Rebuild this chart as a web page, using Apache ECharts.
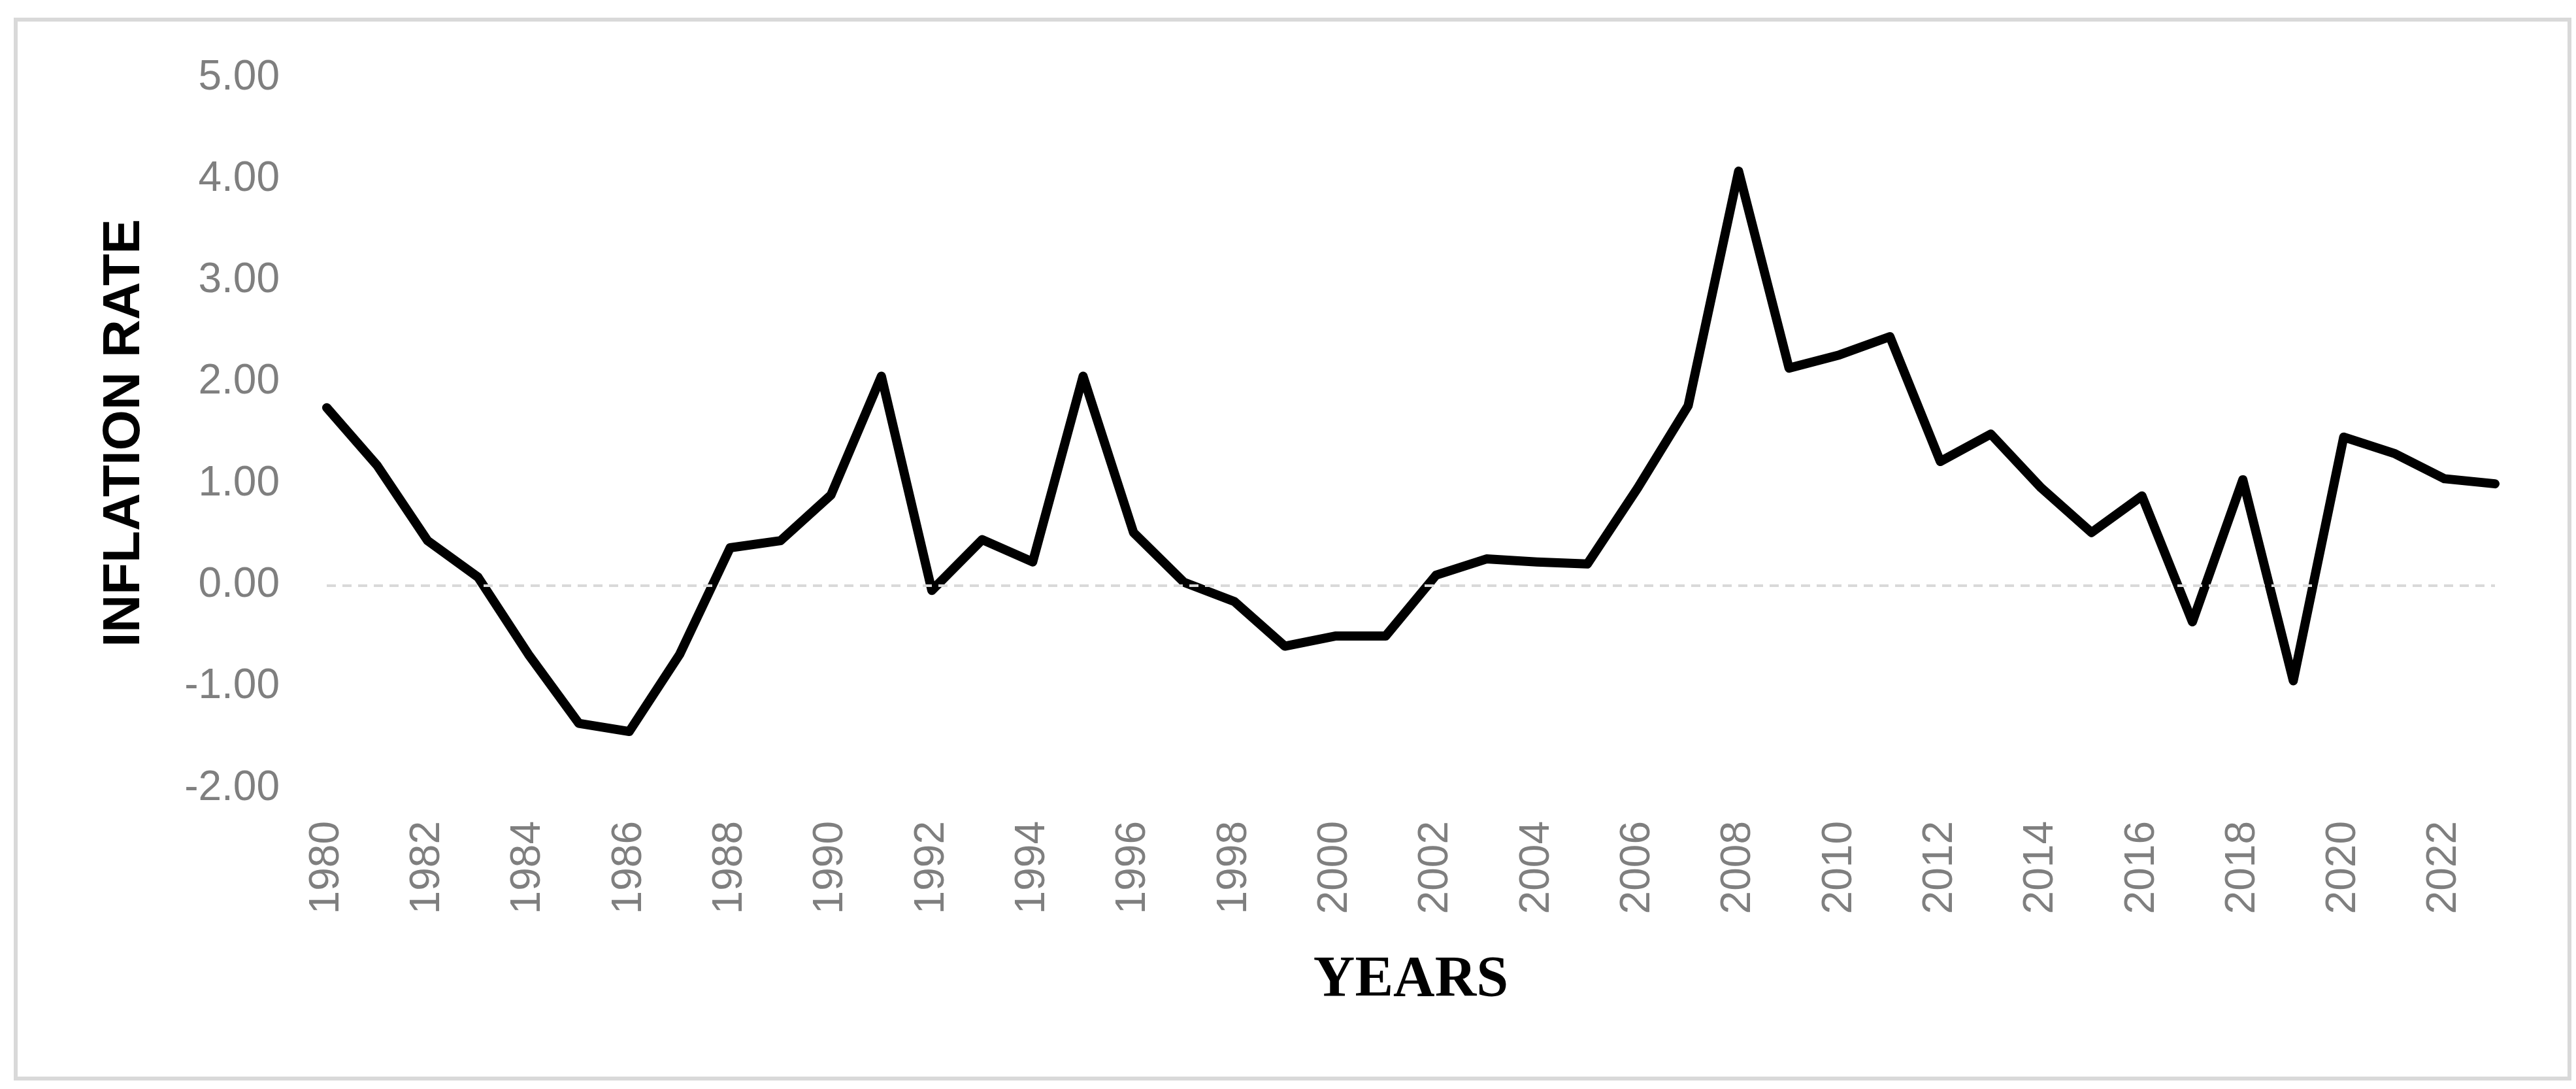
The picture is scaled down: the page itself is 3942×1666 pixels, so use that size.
<!DOCTYPE html>
<html><head><meta charset="utf-8">
<script src="https://cdn.jsdelivr.net/npm/echarts@6/dist/echarts.min.js"></script>
<style>html,body{margin:0;padding:0;background:#fff}#c{width:3942px;height:1666px}</style>
</head><body><div id="c"></div>
<script>
const years = [];
for (let y = 1980; y <= 2023; y++) years.push(String(y));
const inflation = [1.75,1.18,0.44,0.08,-0.68,-1.36,-1.44,-0.68,0.37,0.44,0.89,2.06,-0.05,0.45,0.23,2.06,0.52,0.03,-0.16,-0.60,-0.50,-0.50,0.10,0.26,0.23,0.21,0.96,1.77,4.08,2.14,2.27,2.45,1.22,1.49,0.96,0.52,0.88,-0.36,1.04,-0.94,1.46,1.30,1.05,1.00];
const yTicks = {min:-2, max:5, step:1};
const chart = echarts.init(document.getElementById('c'));
chart.setOption({
  backgroundColor:'#fff',
  animation:false,
  graphic:[{type:'rect',shape:{x:24,y:30,width:3908,height:1620},style:{fill:'none',stroke:'#d9d9d9',lineWidth:6}}],
  grid:{left:500,right:3942-3818,top:119,bottom:1666-1206},
  xAxis:{type:'category',data:years,boundaryGap:false,
    axisLine:{show:false},axisTick:{show:false},
    axisLabel:{rotate:90,color:'#7f7f7f',fontSize:64,fontFamily:'Liberation Sans Narrow, Liberation Sans, sans-serif',margin:50},
    name:'YEARS',nameLocation:'middle',nameGap:294,
    nameTextStyle:{fontFamily:'Liberation Serif, Times New Roman, serif',fontWeight:'bold',fontSize:88,color:'#000',verticalAlign:'middle'}},
  yAxis:{type:'value',min:yTicks.min,max:yTicks.max,interval:yTicks.step,
    axisLabel:{formatter:v=>v.toFixed(2),color:'#7f7f7f',fontSize:64,fontFamily:'Liberation Sans, sans-serif',margin:72},
    splitLine:{show:false},axisLine:{show:false},axisTick:{show:false},
    name:'INFLATION RATE',nameLocation:'middle',nameGap:309,
    nameTextStyle:{fontFamily:'Liberation Sans, Arial, sans-serif',fontWeight:'bold',fontSize:80,color:'#000',verticalAlign:'middle'}},
  series:[{type:'line',data:inflation,symbol:'none',
    lineStyle:{color:'#000',width:14,join:'round',cap:'round'},
    markLine:{silent:true,symbol:'none',label:{show:false},
      lineStyle:{color:'#d9d9d9',type:[14,10],width:4},data:[{yAxis:0}]},
    z:3}]
});
</script></body></html>
